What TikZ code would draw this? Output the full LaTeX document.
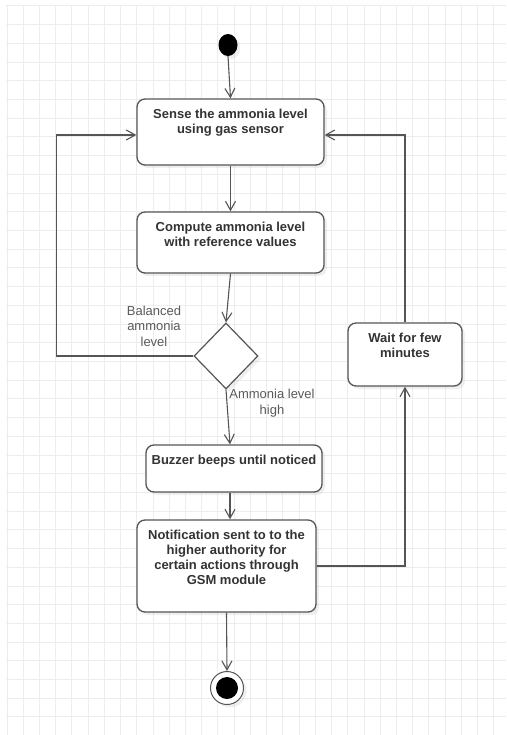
\documentclass[tikz,border=0pt]{standalone}
\usepackage{fontspec}
\setmainfont{Liberation Sans}
\usetikzlibrary{arrows.meta,shapes.geometric,shadows}
\definecolor{edge}{HTML}{555555}
\definecolor{ink}{HTML}{333333}
\definecolor{note}{HTML}{5A5A5A}
\definecolor{gridc}{HTML}{EDEDED}

\begin{document}
\begin{tikzpicture}[x=1pt,y=-1pt,every node/.style={text=ink},
  softshadow/.style={drop shadow={shadow xshift=3pt,shadow yshift=-3pt,opacity=.12}},
  act/.style={draw=edge,line width=1.3pt,rounded corners=8pt,fill=white,inner sep=0pt,softshadow},
  acttext/.style={anchor=north,align=center,font=\fontsize{13}{15}\selectfont\bfseries,yshift=-7.5pt},
  decision/.style={diamond,draw=edge,line width=1.2pt,fill=white,minimum width=64pt,minimum height=66pt,inner sep=0pt,softshadow},
  startdot/.style={ellipse,fill=black,minimum width=19pt,minimum height=22pt,inner sep=0pt,softshadow},
  finaldot/.style={circle,draw=edge,line width=1pt,fill=white,minimum size=33pt,inner sep=0pt,softshadow,
    path picture={\fill[black] (path picture bounding box.center) circle (11pt);}},
  flow/.style={draw=edge,line width=1.1pt,-{Straight Barb[length=9pt,width=10pt]}},
  guard/.style={font=\fontsize{13}{15.5}\selectfont,text=note,align=center},
  gridline/.style={gridc,line width=1pt}]
\useasboundingbox[fill=white] (0,0) rectangle (506,735);
% background grid
\foreach \i in {0,...,30}{\draw[gridline] ({7+16.23*\i},6) -- ({7+16.23*\i},735);}
\foreach \j in {0,...,38}{\draw[gridline] (6,{6+18.71*\j}) -- (506,{6+18.71*\j});}

\node[startdot] (start) at (228,45){};
\node[act,minimum width=187pt,minimum height=66pt,label={[acttext]north:{Sense the ammonia level\\using gas sensor}}] (sense) at (230.5,132){};
\node[act,minimum width=187pt,minimum height=61pt,label={[acttext]north:{Compute ammonia level\\with reference values}}] (compute) at (230.5,242.5){};
\node[decision] (check) at (226,356){};
\node[act,minimum width=176pt,minimum height=47pt,label={[acttext]north:{Buzzer beeps until noticed}}] (buzzer) at (234,468.5){};
\node[act,minimum width=179pt,minimum height=92pt,label={[acttext]north:{Notification sent to to the\\higher authority for\\certain actions through\\GSM module}}] (notify) at (226.5,566){};
\node[act,minimum width=114pt,minimum height=63pt,label={[acttext]north:{Wait for few\\minutes}}] (wait) at (405,354.5){};
\node[finaldot] (end) at (227,688){};

\node[guard] (balanced) at (154,326){Balanced\\ammonia\\level};
\node[guard] (high) at (272,403){Ammonia level\\high};

\draw[flow] (start.south) -- (sense.north);
\draw[flow] (sense.south) -- (compute.north);
\draw[flow] (compute.south) -- (check.north);
\draw[flow] (check.south) -- ([xshift=-4pt]buzzer.north);
\draw[flow] ([xshift=-4pt]buzzer.south) -- ([xshift=3.5pt]notify.north);
\draw[flow] (notify.south) -- (end.north);
\draw[flow] (check.west) -- ++(-137,0) |- ([yshift=-3pt]sense.west);
\draw[flow] (notify.east) -| (wait.south);
\draw[flow] (wait.north) |- ([yshift=-3pt]sense.east);
\end{tikzpicture}
\end{document}
